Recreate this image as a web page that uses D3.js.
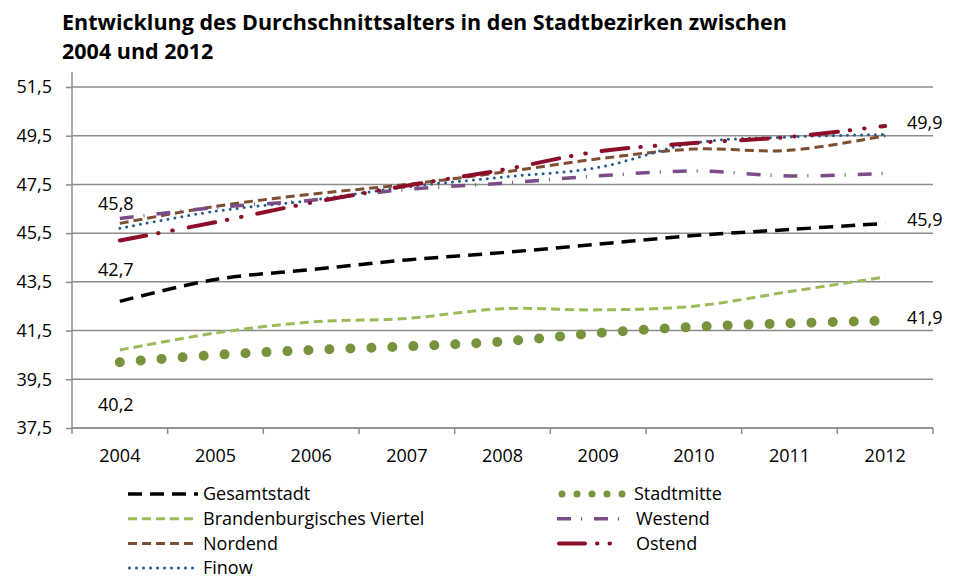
<!DOCTYPE html>
<html><head><meta charset="utf-8">
<script src="https://cdn.jsdelivr.net/npm/d3@7"></script>
<style>
body{margin:0;background:#fff;}
text{font-family:"Open Sans","Noto Sans",sans-serif;fill:#000;}
</style></head>
<body><svg id="c" width="955" height="581"></svg>
<script>
const years = ["2004","2005","2006","2007","2008","2009","2010","2011","2012"];
const yTicks = [37.5,39.5,41.5,43.5,45.5,47.5,49.5,51.5];
const gesamtstadt = [42.7,43.6,44.0,44.4,44.7,45.05,45.4,45.65,45.9];
const stadtmitte = [40.2,40.5,40.7,40.85,41.05,41.4,41.65,41.8,41.9];
const brandenburg = [40.7,41.4,41.85,42.0,42.4,42.35,42.5,43.1,43.7];
const westend = [46.1,46.55,46.85,47.3,47.55,47.85,48.05,47.85,47.95];
const nordend = [45.9,46.6,47.1,47.5,48.0,48.55,48.95,48.9,49.5];
const ostend = [45.2,45.95,46.75,47.45,48.1,48.85,49.2,49.45,49.9];
const finow = [45.7,46.4,46.85,47.4,47.8,48.2,49.2,49.45,49.55];
const labelsLeft = [["45,8",45.8,204],["42,7",42.7,270],["40,2",40.2,405]];
const labelsRight = [["49,9",49.9],["45,9",45.9],["41,9",41.9]];

const series = [
  {name:"Gesamtstadt", data:gesamtstadt, color:"#000000", w:3.5, dash:"14 8", cap:"butt"},
  {name:"Brandenburgisches Viertel", data:brandenburg, color:"#9BBB59", w:3, dash:"9 5", cap:"butt"},
  {name:"Nordend", data:nordend, color:"#7E4E30", w:3, dash:"9 5", cap:"butt"},
  {name:"Finow", data:finow, color:"#235C8C", w:3, dash:"0 7", cap:"round"},
  {name:"Westend", data:westend, color:"#7B4C87", w:3.5, dash:"14 10 1 12", cap:"butt"},
  {name:"Ostend", data:ostend, color:"#8C0E28", w:4, dash:"27 12 0.5 14 0.5 16", cap:"round"},
  {name:"Stadtmitte", data:stadtmitte, color:"#77933C", w:10, dash:"0 21", cap:"round"}
];

const svg = d3.select("#c");
const L=72, R=933, T=87, B=428;
const FS = "18px";
const x = d3.scaleBand().domain(years).range([L,R]);
const y = d3.scaleLinear().domain([37.5,51.5]).range([B,T]);
const fmt = v => d3.format(".1f")(v).replace(".",",");

// title
svg.append("text").attr("x",62).attr("y",30).style("font-weight","bold").style("font-size","21.5px").text("Entwicklung des Durchschnittsalters in den Stadtbezirken zwischen");
svg.append("text").attr("x",62).attr("y",59).style("font-weight","bold").style("font-size","21.5px").text("2004 und 2012");

// gridlines
svg.append("g").selectAll("line").data(yTicks).join("line")
  .attr("x1",L).attr("x2",R).attr("y1",d=>y(d)).attr("y2",d=>y(d))
  .attr("stroke","#8c8c8c").attr("stroke-width",1.5);

// y axis
const ya = svg.append("g").attr("transform",`translate(${L},0)`)
  .call(d3.axisLeft(y).tickValues(yTicks).tickSize(6).tickPadding(14).tickFormat(fmt));
ya.select(".domain").remove();
ya.selectAll(".tick line").attr("stroke","#8c8c8c").attr("stroke-width",1.5);
ya.selectAll(".tick text").style("font-size",FS).style("font-family","'Open Sans',sans-serif").attr("fill","#000");
svg.append("line").attr("x1",L).attr("x2",L).attr("y1",72).attr("y2",B).attr("stroke","#8c8c8c").attr("stroke-width",1.5);

// x axis
const xa = svg.append("g").attr("transform",`translate(0,${B})`)
  .call(d3.axisBottom(x).tickSize(0).tickPadding(21));
xa.select(".domain").attr("stroke","#8c8c8c").attr("stroke-width",1.5).attr("d",`M${L},0H${R}`);
xa.selectAll(".tick text").style("font-size",FS).style("font-family","'Open Sans',sans-serif").attr("fill","#000");
const bounds = years.map(d=>x(d)).concat([x(years[years.length-1])+x.bandwidth()]);
svg.append("g").selectAll("line").data(bounds).join("line")
  .attr("x1",d=>d).attr("x2",d=>d).attr("y1",B).attr("y2",B+6)
  .attr("stroke","#8c8c8c").attr("stroke-width",1.5);

// lines
const line = d3.line().x((d,i)=>x(years[i])+x.bandwidth()/2).y(d=>y(d)).curve(d3.curveCatmullRom.alpha(0.5));
svg.append("g").selectAll("path").data(series).join("path")
  .attr("d",d=>line(d.data)).attr("fill","none")
  .attr("stroke",d=>d.color).attr("stroke-width",d=>d.w)
  .attr("stroke-dasharray",d=>d.dash).attr("stroke-linecap",d=>d.cap);

// data labels
svg.append("g").selectAll("text").data(labelsLeft).join("text")
  .attr("x",x(years[0])+x.bandwidth()/2-4).attr("y",d=>d[2]).attr("text-anchor","middle").attr("dy","0.35em")
  .style("font-size",FS).text(d=>d[0]);
svg.append("g").selectAll("text").data(labelsRight).join("text")
  .attr("x",907).attr("y",d=>y(d[1])).attr("dy","0.15em").attr("text-anchor","start")
  .style("font-size",FS).text(d=>d[0]);

// legend
const legendItems = [
  {s:series[0], col:0,row:0},{s:series[6],col:1,row:0},
  {s:series[1], col:0,row:1},{s:series[4],col:1,row:1},
  {s:series[2], col:0,row:2},{s:series[5],col:1,row:2},
  {s:series[3], col:0,row:3}
];
const lg = svg.append("g");
legendItems.forEach(it=>{
  const ly = 494 + it.row*24.7;
  const x0 = it.col===0 ? 128 : 557;
  const x1 = it.col===0 ? 198 : (it.s.name==="Stadtmitte" ? 630 : 620);
  const tx = it.col===0 ? 203 : (it.s.name==="Stadtmitte" ? 634 : 636);
  lg.append("line").attr("x1",x0+(it.s.cap==="round"?it.s.w/2:0)).attr("x2",x1).attr("y1",ly).attr("y2",ly)
    .attr("stroke",it.s.color).attr("stroke-width",it.s.name==="Stadtmitte"?7:it.s.w)
    .attr("stroke-dasharray",it.s.name==="Stadtmitte"?"0 15":it.s.name==="Ostend"?"26 12 0.5 12 0.5 20":it.s.dash)
    .attr("stroke-linecap",it.s.cap);
  lg.append("text").attr("x",tx).attr("y",ly).attr("dy","0.35em").style("font-size",FS).text(it.s.name);
});
</script></body></html>
